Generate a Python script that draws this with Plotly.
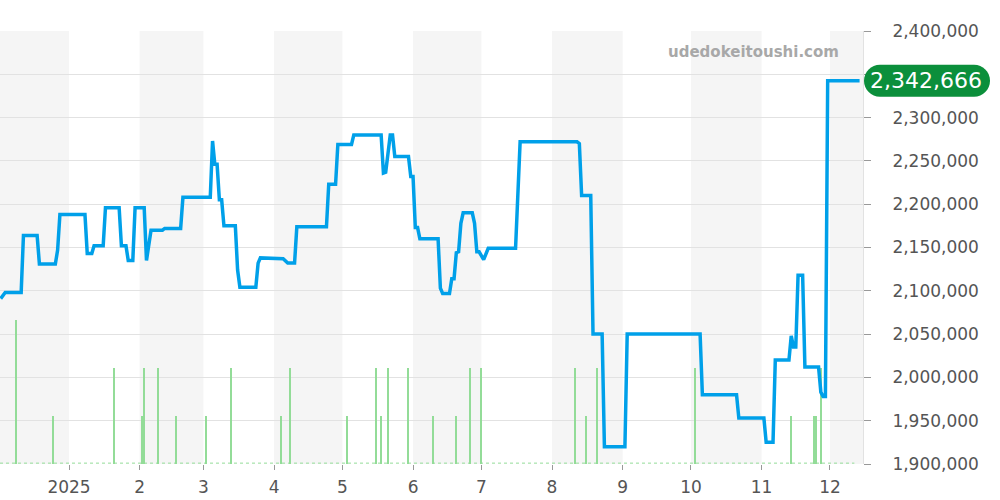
import plotly.graph_objects as go

# ---------------- data ----------------
price_dates = [
    '2024-12-02', '2024-12-04', '2024-12-11', '2024-12-12', '2024-12-18', '2024-12-19', '2024-12-26', '2024-12-27', '2024-12-28',
    '2025-01-08', '2025-01-09', '2025-01-11', '2025-01-12', '2025-01-16', '2025-01-17', '2025-01-23', '2025-01-24', '2025-01-26', '2025-01-27', '2025-01-29', '2025-01-30',
    '2025-02-03', '2025-02-04', '2025-02-05', '2025-02-06', '2025-02-11', '2025-02-12', '2025-02-19', '2025-02-20',
    '2025-03-04', '2025-03-05', '2025-03-06', '2025-03-07', '2025-03-08', '2025-03-09', '2025-03-10', '2025-03-15', '2025-03-16', '2025-03-17', '2025-03-24', '2025-03-25', '2025-03-26',
    '2025-04-05', '2025-04-07', '2025-04-10', '2025-04-11', '2025-04-24', '2025-04-25', '2025-04-28', '2025-04-29',
    '2025-05-05', '2025-05-06', '2025-05-18', '2025-05-19', '2025-05-20', '2025-05-22', '2025-05-23', '2025-05-24', '2025-05-30', '2025-05-31',
    '2025-06-01', '2025-06-02', '2025-06-03', '2025-06-04', '2025-06-12', '2025-06-13', '2025-06-14', '2025-06-17', '2025-06-18', '2025-06-19', '2025-06-20', '2025-06-21', '2025-06-22', '2025-06-23', '2025-06-27', '2025-06-28', '2025-06-29', '2025-06-30',
    '2025-07-02', '2025-07-04', '2025-07-16', '2025-07-18',
    '2025-08-11', '2025-08-12', '2025-08-13', '2025-08-14', '2025-08-18', '2025-08-19', '2025-08-23', '2025-08-24',
    '2025-09-02', '2025-09-03',
    '2025-10-05', '2025-10-06', '2025-10-21', '2025-10-22',
    '2025-11-02', '2025-11-03', '2025-11-06', '2025-11-07', '2025-11-13', '2025-11-14', '2025-11-15', '2025-11-16', '2025-11-17', '2025-11-19', '2025-11-20', '2025-11-26', '2025-11-27', '2025-11-28', '2025-11-29', '2025-11-30',
    '2025-12-14',
]
price_values = [
    2091000, 2098000, 2098000, 2164000, 2164000, 2131000, 2131000, 2147000, 2188000,
    2188000, 2143000, 2143000, 2152000, 2152000, 2196000, 2196000, 2152000, 2152000, 2135000, 2135000, 2196000,
    2196000, 2135000, 2150000, 2170000, 2170000, 2172000, 2172000, 2208000,
    2208000, 2273000, 2246000, 2246000, 2205000, 2205000, 2175000, 2175000, 2124000, 2104000, 2104000, 2132000, 2138000,
    2137000, 2132000, 2132000, 2174000, 2174000, 2223000, 2223000, 2269000,
    2269000, 2280000, 2280000, 2236000, 2237000, 2280000, 2280000, 2255000, 2255000, 2232000,
    2232000, 2173000, 2173000, 2160000, 2160000, 2103000, 2097000, 2097000, 2114000, 2114000, 2144000, 2145000, 2178000, 2190000, 2190000, 2178000, 2145000, 2145000,
    2136000, 2149000, 2149000, 2272000,
    2272000, 2272000, 2270000, 2210000, 2210000, 2050000, 2050000, 1920000,
    1920000, 2050000,
    2050000, 1980000, 1980000, 1953000,
    1953000, 1925000, 1925000, 2020000, 2020000, 2048000, 2035000, 2035000, 2118000, 2118000, 2012000, 2012000, 1983000, 1978000, 1978000, 2342666,
    2342666,
]

volume_dates = [
    '2024-12-09', '2024-12-25', '2025-01-21', '2025-02-02', '2025-02-03', '2025-02-09', '2025-02-17',
    '2025-03-02', '2025-03-13', '2025-04-04', '2025-04-08', '2025-05-03', '2025-05-16', '2025-05-18',
    '2025-05-21', '2025-05-30', '2025-06-10', '2025-06-20', '2025-06-26', '2025-07-01', '2025-08-11',
    '2025-08-16', '2025-08-21', '2025-10-03', '2025-11-14', '2025-11-24', '2025-11-25', '2025-11-27',
]
volume_counts = [3, 1, 2, 1, 2, 2, 1, 1, 2, 1, 2, 1, 2, 1, 2, 2, 1, 1, 2, 2, 2, 1, 2, 2, 1, 1, 1, 2]

month_ticks = ['2025-01-01', '2025-02-01', '2025-03-01', '2025-04-01', '2025-05-01', '2025-06-01',
               '2025-07-01', '2025-08-01', '2025-09-01', '2025-10-01', '2025-11-01', '2025-12-01']
month_labels = ['2025', '2', '3', '4', '5', '6', '7', '8', '9', '10', '11', '12']

shaded_months = [('2024-12-01', '2025-01-01'), ('2025-02-01', '2025-03-01'), ('2025-04-01', '2025-05-01'),
                 ('2025-06-01', '2025-07-01'), ('2025-08-01', '2025-09-01'), ('2025-10-01', '2025-11-01'),
                 ('2025-12-01', '2026-01-01')]

price_ticks = [1900000, 1950000, 2000000, 2050000, 2100000, 2150000, 2200000, 2250000, 2300000, 2350000, 2400000]
# the 2,350,000 label sits under the last-price pill in the reference
price_tick_labels = ['1,900,000', '1,950,000', '2,000,000', '2,050,000', '2,100,000', '2,150,000',
                     '2,200,000', '2,250,000', '2,300,000', '', '2,400,000']

watermark = 'udedokeitoushi.com'

# ---------------- figure ----------------
FONT = 'DejaVu Sans'
TICKCOL = '#555555'

fig = go.Figure()

fig.add_trace(go.Bar(
    x=volume_dates, y=volume_counts, yaxis='y',
    marker=dict(color='#93dc98', line=dict(width=0)),
    width=0.6 * 86400000, hoverinfo='skip', showlegend=False,
))

fig.add_trace(go.Scatter(
    x=price_dates, y=price_values, yaxis='y2', mode='lines',
    line=dict(color='#00a0e9', width=3.5), showlegend=False,
))

shapes = []
for s, e in shaded_months:
    shapes.append(dict(type='rect', xref='x', yref='paper', x0=s, x1=e, y0=0, y1=1,
                       fillcolor='#f5f5f5', line=dict(width=0), layer='below'))

# dotted baseline of the volume strip
shapes.append(dict(type='line', xref='paper', yref='paper', x0=0, x1=0.99, y0=0.002, y1=0.002,
                   line=dict(color='#93dc98', width=1, dash='dot'), layer='above'))

# pill behind the last price label
last_val = price_values[-1]
k = 0.5523 * 16
pill = (f'M 17,-16 L 111,-16 C {111 + k},-16 127,{-k} 127,0 C 127,{k} {111 + k},16 111,16 '
        f'L 17,16 C {17 - k},16 1,{k} 1,0 C 1,{-k} {17 - k},-16 17,-16 Z')
shapes.append(dict(type='path', xref='paper', yref='y2', xsizemode='pixel', ysizemode='pixel',
                   xanchor=1, yanchor=last_val, path=pill, fillcolor='#0b8f3b',
                   line=dict(width=0), layer='above'))

annotations = [
    dict(text=f'{last_val:,}', xref='paper', yref='y2', x=1, y=last_val, xanchor='center',
         yanchor='middle', xshift=63, showarrow=False, font=dict(family=FONT, size=22, color='white')),
    dict(text=f'<b>{watermark}</b>', xref='paper', yref='paper', x=841 / 863, y=(464 - 52) / 433,
         xanchor='right', yanchor='middle', showarrow=False, font=dict(family=FONT, size=15, color='#a8a8a8')),
]

fig.update_layout(
    width=1000, height=500,
    margin=dict(l=0, r=137, t=31, b=36),
    paper_bgcolor='white', plot_bgcolor='white',
    font=dict(family=FONT, size=17, color=TICKCOL),
    bargap=0,
    shapes=shapes, annotations=annotations,
    xaxis=dict(
        type='date', range=['2024-12-01 17:00', '2025-12-15 12:00'],
        tickvals=month_ticks, ticktext=month_labels,
        ticks='outside', ticklen=5, tickcolor='#999999', tickwidth=1,
        showgrid=False, showline=False, zeroline=False, ticklabelstandoff=3,
        tickfont=dict(family=FONT, size=17, color=TICKCOL),
    ),
    yaxis=dict(range=[0, 9], visible=False, showgrid=False, fixedrange=True),
    yaxis2=dict(
        overlaying='y', side='right', range=[1900000, 2400000],
        tickvals=price_ticks, ticktext=price_tick_labels,
        ticks='outside', ticklen=7, tickcolor='#999999', tickwidth=1,
        showgrid=True, gridcolor='#e2e2e2', gridwidth=1,
        showline=True, linecolor='#e2e2e2', linewidth=1,
        zeroline=False, ticklabelstandoff=18,
        tickfont=dict(family=FONT, size=17, color=TICKCOL),
    ),
)

fig.write_html('out.html', config={'displayModeBar': False},
               post_script="document.body.style.margin='0';")
